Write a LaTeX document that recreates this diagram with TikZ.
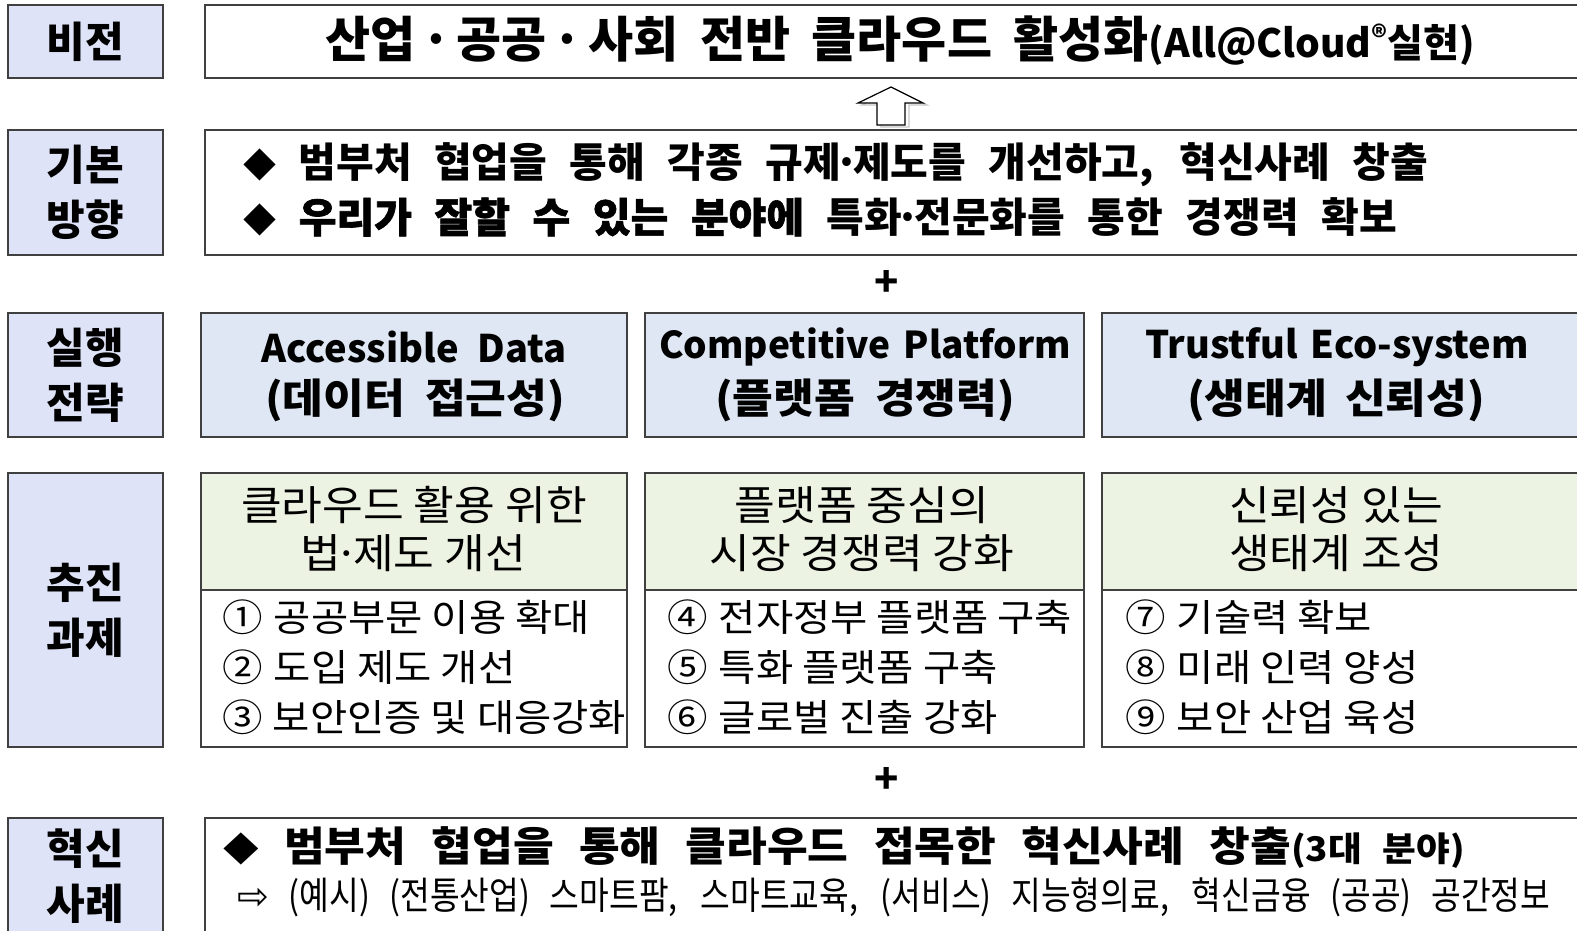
\documentclass[tikz,border=0pt]{standalone}
\usepackage{fontspec}
\setmainfont{Noto Sans CJK KR}
\newfontfamily\semi{Noto Sans CJK KR}[FakeBold=1.5]
\newfontfamily\ample{Noto Sans CJK KR}[FakeStretch=1.08]
\newfontfamily\etroit{Noto Sans CJK KR}[FakeStretch=0.85]
\newfontfamily\fleche{DejaVu Sans}
\newcommand\fitline[2]{\makebox[#1][s]{#2}}
\newcommand\sz[1]{\fontsize{#1}{#1}\selectfont}
\newcommand\jum[1]{\makebox[#1]{·}}
\newcommand\puce{{\sz{33}◆}}
\definecolor{trait}{HTML}{404040}
\definecolor{fondetiq}{HTML}{DFE3F7}
\definecolor{fondstrat}{HTML}{DEE7F3}
\definecolor{fondtache}{HTML}{EDF3E3}

\begin{document}
\begin{tikzpicture}[x=1pt,y=-1pt]
  \tikzstyle{cadre}=[draw=trait,line width=1.6pt,inner sep=0pt,fill=white]
  \tikzstyle{etiquette}=[cadre,fill=fondetiq,minimum width=155pt,align=center,font=\fontsize{42}{55}\selectfont\bfseries]
  \tikzstyle{strat}=[cadre,fill=fondstrat,minimum height=124pt]
  \tikzstyle{tete}=[cadre,fill=fondtache,minimum height=117pt]
  \tikzstyle{corps}=[cadre,minimum height=157pt]
  \tikzstyle{texte}=[inner sep=0pt]
  \tikzstyle{gras}=[texte,font=\sz{41}\bfseries]
  \tikzstyle{latin}=[texte,font=\sz{38}\bfseries]
  \tikzstyle{titre}=[texte,font=\ample\sz{41}]
  \tikzstyle{item}=[texte,anchor=west,font=\ample\sz{37.5}]
  \useasboundingbox (0,0) rectangle (1577,930);
  \clip (0,0) rectangle (1577,930);

  \node[etiquette,minimum height=73pt] (vision) at (85.5,41.5) {비전};
  \node[etiquette,minimum height=125pt] (direction) at (85.5,192.5) {기본\\방향};
  \node[etiquette,minimum height=124pt] (strategie) at (85.5,375) {실행\\전략};
  \node[etiquette,minimum height=274pt] (taches) at (85.5,610) {추진\\과제};
  \node[etiquette,minimum height=142pt] (cas) at (85.5,889) {};
  \node[texte,align=center,font=\fontsize{42}{55}\selectfont\bfseries] (castxt) at (85.5,876) {혁신\\사례};

  \node[cadre,minimum width=1395pt,minimum height=73pt] (visbox) at (902.5,41.5) {};
  \node[texte,font=\sz{49}\bfseries] (vistxt) at (900,41) {\fitline{1150pt}{산업\jum{0.85em}공공\jum{0.85em}사회 전반 클라우드 활성화{\sz{39}(All@Cloud{\sz{30}\raisebox{9pt}{®}}실현)}}};

  \draw[gray!45,line width=1.2pt,shift={(4,2)}] (891,87) -- (923,103) -- (905,103) -- (905,125) -- (877,125) -- (877,103) -- (858,103) -- cycle;
  \draw[black,line width=1.2pt,fill=white] (891,87) -- (923,103) -- (905,103) -- (905,125) -- (877,125) -- (877,103) -- (858,103) -- cycle;

  \node[cadre,minimum width=1395pt,minimum height=125pt] (dirbox) at (902.5,192.5) {};
  \node[gras,anchor=west] (dir1) at (243,165) {\fitline{1185pt}{\puce{} 범부처 협업을 통해 각종 규제\jum{0.3em}제도를 개선하고, 혁신사례 창출}};
  \node[gras,anchor=west] (dir2) at (243,217) {\fitline{1154pt}{\puce{} {\semi 우리가 잘할 수 있는 분야에} 특화\jum{0.3em}전문화를 통한 경쟁력 확보}};

  \node[texte,font=\sz{40}\bfseries] (plus1) at (887,283) {+};

  \node[strat,minimum width=426pt] (s1) at (414,375) {};
  \node[strat,minimum width=439pt] (s2) at (864.5,375) {};
  \node[strat,minimum width=498pt] (s3) at (1351,375) {};
  \node[latin] (s1a) at (414,347) {\fitline{305pt}{Accessible Data}};
  \node[gras,font=\ample\sz{41}\bfseries] (s1b) at (415,400) {\fitline{300pt}{(데이터 접근성)}};
  \node[latin,font=\sz{37}\bfseries] (s2a) at (865,347) {\fitline{412pt}{Competitive Platform}};
  \node[gras,font=\ample\sz{41}\bfseries] (s2b) at (865,400) {\fitline{300pt}{(플랫폼 경쟁력)}};
  \node[latin] (s3a) at (1337,347) {\fitline{384pt}{Trustful Eco-system}};
  \node[gras,font=\ample\sz{41}\bfseries] (s3b) at (1336,400) {\fitline{298pt}{(생태계 신뢰성)}};

  \node[tete,minimum width=426pt] (t1) at (414,531.5) {};
  \node[tete,minimum width=439pt] (t2) at (864.5,531.5) {};
  \node[tete,minimum width=498pt] (t3) at (1351,531.5) {};
  \node[corps,minimum width=426pt] (c1) at (414,668.5) {};
  \node[corps,minimum width=439pt] (c2) at (864.5,668.5) {};
  \node[corps,minimum width=498pt] (c3) at (1351,668.5) {};

  \node[titre] (t1a) at (414,505) {클라우드 활용 위한};
  \node[titre] (t1b) at (413,553) {법\jum{0.3em}제도 개선};
  \node[titre] (t2a) at (862,505) {플랫폼 중심의};
  \node[titre] (t2b) at (862,553) {시장 경쟁력 강화};
  \node[titre] (t3a) at (1336,505) {신뢰성 있는};
  \node[titre] (t3b) at (1336,553) {생태계 조성};

  \node[item] (i1) at (222,617) {①\hspace{2pt} 공공부문 이용 확대};
  \node[item] (i2) at (222,667) {②\hspace{2pt} 도입 제도 개선};
  \node[item] (i3) at (222,717) {③\hspace{1pt} 보안인증 및 대응강화};
  \node[item] (i4) at (667,617) {④\hspace{2pt} 전자정부 플랫폼 구축};
  \node[item] (i5) at (667,667) {⑤\hspace{2pt} 특화 플랫폼 구축};
  \node[item] (i6) at (667,717) {⑥\hspace{2pt} 글로벌 진출 강화};
  \node[item] (i7) at (1125,617) {⑦\hspace{2pt} 기술력 확보};
  \node[item] (i8) at (1125,667) {⑧\hspace{2pt} 미래 인력 양성};
  \node[item] (i9) at (1125,717) {⑨\hspace{2pt} 보안 산업 육성};

  \node[texte,font=\sz{40}\bfseries] (plus2) at (887,780) {+};

  \node[cadre,minimum width=1395pt,minimum height=142pt] (casbox) at (902.5,889) {};
  \node[gras,anchor=west,font=\ample\sz{41}\bfseries] (cas1) at (223,848) {\fitline{1242pt}{\puce{} 범부처 협업을 통해 클라우드 접목한 혁신사례 창출{\sz{34}(3대 분야)}}};
  \node[texte,anchor=west,font=\etroit\sz{38}] (cas2) at (237,897) {\fitline{1313pt}{{\fleche ⇨} (예시) (전통산업) 스마트팜, 스마트교육, (서비스) 지능형의료, 혁신금융 (공공) 공간정보}};
\end{tikzpicture}
\end{document}
